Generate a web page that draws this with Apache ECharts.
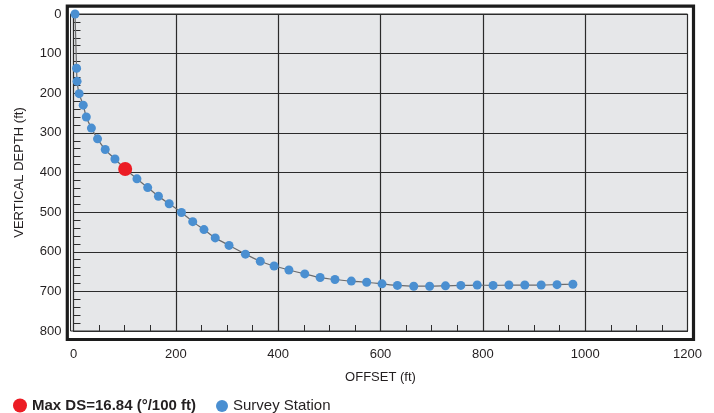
<!DOCTYPE html>
<html>
<head>
<meta charset="utf-8">
<script src="https://cdn.jsdelivr.net/npm/echarts@6/dist/echarts.min.js"></script>
<style>
html,body{margin:0;padding:0;background:#fff;}
#chart{width:714px;height:413px;}
</style>
</head>
<body>
<div id="chart"></div>
<script>
// Survey stations (offset ft, vertical depth ft)
var offsetFt = [3, 6, 7, 11, 19, 25, 35, 47, 62, 81, 101, 124, 145, 166, 187, 211, 233, 255, 277, 304, 336, 365, 392, 421, 452, 482, 511, 543, 573, 603, 633, 665, 696, 727, 757, 789, 820, 851, 882, 914, 945, 976];
var depthFt = [0, 137, 170, 201, 230, 260, 288, 315, 342, 366, 391, 416, 438, 460, 479, 501, 524, 544, 565, 584, 606, 624, 636, 646, 656, 665, 670, 674, 677, 681, 685, 687, 687, 686, 685, 684, 685, 684, 684, 684, 683, 682];
// Max dogleg severity location
var maxDsOffset = [101];
var maxDsDepth = [391];
var maxDsLabel = 'Max DS=16.84 (°/100 ft)';
var stationLabel = 'Survey Station';
var xTicks = [0, 200, 400, 600, 800, 1000, 1200];
var yTicks = [0, 100, 200, 300, 400, 500, 600, 700, 800];

var survey = offsetFt.map(function (x, i) { return [x, depthFt[i]]; });
var maxDs = maxDsOffset.map(function (x, i) { return [x, maxDsDepth[i]]; });

var font = "'Liberation Sans', Arial, Helvetica, sans-serif";
var txt = '#231f20';

var chart = echarts.init(document.getElementById('chart'), null, {renderer: 'canvas'});
chart.setOption({
  animation: false,
  backgroundColor: '#ffffff',
  grid: [
    {left: 73.5, right: 26.5, top: 14, bottom: 82, show: false, z: 3},
    {left: 70.5, right: 26.5, top: 14, bottom: 82, show: true, backgroundColor: '#e6e7e9', borderColor: '#2d2d2d', borderWidth: 1, z: 1},
    {left: 67.3, right: 20.5, top: 6.2, bottom: 73.5, show: true, backgroundColor: 'transparent', borderColor: '#1c1c1c', borderWidth: 3.2, z: 1}
  ],
  xAxis: [
    {
      gridIndex: 0, type: 'value', position: 'bottom', min: xTicks[0], max: xTicks[xTicks.length - 1], interval: 200,
      name: 'OFFSET (ft)', nameLocation: 'middle', nameGap: 40,
      nameTextStyle: {fontFamily: font, fontSize: 13, color: txt},
      axisLine: {show: true, onZero: false, lineStyle: {color: '#2d2d2d', width: 1}},
      axisTick: {show: false, inside: true},
      minorTick: {show: true, splitNumber: 4, length: 6, lineStyle: {color: '#2d2d2d', width: 1}},
      axisLabel: {fontFamily: font, fontSize: 13, color: txt, margin: 17, showMaxLabel: true, showMinLabel: true,
        formatter: function (v) { return String(v); }},
      splitLine: {show: true, lineStyle: {color: '#2b2b2b', width: 1.2}},
      z: 3
    },
    {gridIndex: 1, type: 'value', show: false, min: 0, max: 1},
    {gridIndex: 2, type: 'value', show: false, min: 0, max: 1}
  ],
  yAxis: [
    {
      gridIndex: 0, type: 'value', position: 'left', inverse: true, min: yTicks[0], max: yTicks[yTicks.length - 1], interval: 100,
      name: 'VERTICAL DEPTH (ft)', nameLocation: 'middle', nameGap: 48,
      nameTextStyle: {fontFamily: font, fontSize: 13, color: txt},
      axisLine: {show: true, onZero: false, lineStyle: {color: '#2d2d2d', width: 1}},
      axisTick: {show: false, inside: true},
      minorTick: {show: true, splitNumber: 5, length: 7, lineStyle: {color: '#2d2d2d', width: 1}},
      axisLabel: {fontFamily: font, fontSize: 13, color: txt, margin: 12,
        formatter: function (v) { return String(v); }},
      splitLine: {show: true, lineStyle: {color: '#2b2b2b', width: 1.2}},
      z: 3
    },
    {gridIndex: 1, type: 'value', show: false, min: 0, max: 1},
    {gridIndex: 2, type: 'value', show: false, min: 0, max: 1}
  ],
  legend: [
    {
      left: 13, top: 398, padding: 0, itemWidth: 14, itemHeight: 14, icon: 'circle',
      data: [{name: maxDsLabel}],
      textStyle: {fontFamily: font, fontSize: 15, fontWeight: 'bold', color: txt},
      selectedMode: false
    },
    {
      left: 216, top: 398.5, padding: 0, itemWidth: 12, itemHeight: 12, icon: 'circle',
      data: [{name: stationLabel}],
      textStyle: {fontFamily: font, fontSize: 15, color: txt},
      selectedMode: false
    }
  ],
  series: [
    {
      name: stationLabel, type: 'line', xAxisIndex: 0, yAxisIndex: 0,
      data: survey, smooth: 0.25,
      symbol: 'circle', symbolSize: 9,
      lineStyle: {color: '#6a6b6d', width: 1.2},
      itemStyle: {color: '#4a8fd1', opacity: 1},
      z: 4
    },
    {
      name: maxDsLabel, type: 'scatter', xAxisIndex: 0, yAxisIndex: 0,
      data: maxDs, symbol: 'circle', symbolSize: 14,
      itemStyle: {color: '#ec1c24', opacity: 1},
      z: 5
    }
  ]
});
</script>
</body>
</html>
